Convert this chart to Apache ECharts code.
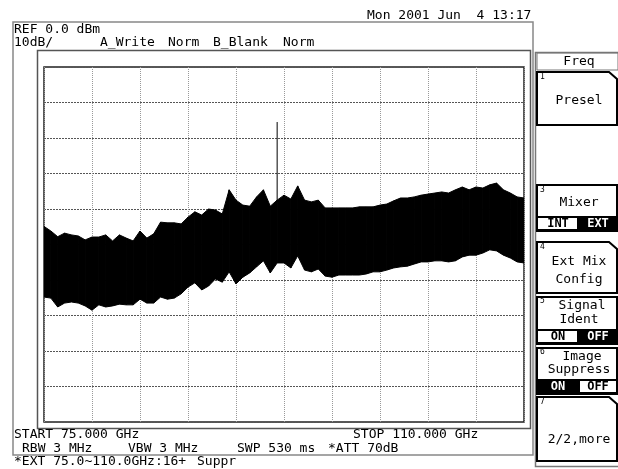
<!DOCTYPE html>
<html>
<head>
<meta charset="utf-8">
<script src="https://cdn.jsdelivr.net/npm/echarts@6/dist/echarts.min.js"></script>
<style>
  body { margin: 0; background: #fff; }
  #main { width: 618px; height: 469px; }
</style>
</head>
<body>
<div id="main"></div>
<script>
// sweep points, GHz
var freqGHz = [
  75.0, 75.5, 76.0, 76.5, 77.0, 77.5, 78.0, 78.5, 79.0, 79.5,
  80.0, 80.5, 81.0, 81.5, 82.0, 82.5, 83.0, 83.5, 84.0, 84.5,
  85.0, 85.5, 86.0, 86.5, 87.0, 87.5, 88.0, 88.5, 89.0, 89.5,
  90.0, 90.5, 91.0, 91.5, 92.0, 92.5, 93.0, 93.5, 94.0, 94.5,
  95.0, 95.5, 96.0, 96.5, 97.0, 97.5, 98.0, 98.5, 99.0, 99.5,
  100.0, 100.5, 101.0, 101.5, 102.0, 102.5, 103.0, 103.5, 104.0, 104.5,
  105.0, 105.5, 106.0, 106.5, 107.0, 107.5, 108.0, 108.5, 109.0, 109.5,
  110.0
];
// upper edge of the trace, dBm
var upperDbm = [
  -44.9, -46.2, -47.8, -46.8, -47.3, -47.6, -48.7, -47.9, -47.9, -47.3,
  -49.0, -47.3, -48.2, -49.0, -46.2, -48.2, -47.0, -43.7, -43.9, -43.9,
  -44.2, -42.3, -40.8, -41.7, -40.0, -40.3, -41.4, -34.6, -37.5, -38.9,
  -39.2, -36.6, -34.6, -39.2, -37.5, -36.1, -37.2, -33.5, -37.5, -38.0,
  -37.5, -39.7, -39.7, -39.7, -39.7, -39.7, -39.4, -39.4, -39.4, -38.9,
  -38.6, -37.7, -36.9, -36.9, -36.6, -36.1, -35.8, -35.5, -35.2, -35.5,
  -34.6, -33.8, -34.6, -33.8, -34.1, -33.2, -32.7, -34.6, -35.5, -36.6,
  -36.9
];
// lower edge of the trace, dBm
var lowerDbm = [
  -64.8, -65.1, -67.6, -66.5, -66.2, -66.5, -67.3, -68.5, -67.0, -67.6,
  -67.3, -66.8, -67.0, -67.0, -65.4, -66.5, -66.5, -64.8, -65.4, -65.1,
  -63.9, -62.0, -60.8, -62.8, -61.7, -59.7, -60.6, -57.7, -61.1, -59.2,
  -58.0, -56.3, -54.6, -58.0, -55.2, -55.2, -56.6, -53.2, -57.2, -57.7,
  -56.9, -58.9, -59.2, -58.6, -58.6, -58.6, -58.6, -58.3, -57.7, -57.7,
  -57.2, -56.6, -56.3, -56.1, -55.5, -54.9, -54.9, -54.6, -54.6, -54.9,
  -54.6, -53.5, -53.0, -53.0, -52.4, -51.5, -51.8, -53.0, -53.8, -54.9,
  -55.2
];
// single spur
var spikeGHz = [92.0, 92.0];
var spikeDbm = [-38.0, -15.5];

var FONT = '"DejaVu Sans Mono", monospace';
var myChart = echarts.init(document.getElementById('main'));

var traceData = freqGHz.map(function (f, i) { return [f, upperDbm[i], lowerDbm[i]]; });
var spikeSeries = spikeGHz.map(function (f, i) { return [f, spikeDbm[i]]; });

// fill between upper and lower edge, one slice per sweep step
function renderTrace(params, api) {
  var i = params.dataIndex;
  if (i >= freqGHz.length - 1) return;
  var a = api.coord([freqGHz[i], upperDbm[i]]);
  var b = api.coord([freqGHz[i + 1], upperDbm[i + 1]]);
  var c = api.coord([freqGHz[i + 1], lowerDbm[i + 1]]);
  var d = api.coord([freqGHz[i], lowerDbm[i]]);
  return {
    type: 'polygon',
    shape: { points: [a, b, c, d] },
    style: { fill: '#000', stroke: '#000', lineWidth: 1 }
  };
}

// text helper
function txt(x, y, s, size, opt) {
  opt = opt || {};
  return {
    type: 'text', z: 10,
    style: {
      x: x, y: y, text: s,
      font: (opt.bold ? 'bold ' : '') + size + 'px ' + FONT,
      fill: opt.fill || '#000',
      textAlign: opt.align || 'left',
      textVerticalAlign: 'middle'
    }
  };
}
function box(x, y, w, h, stroke, lw, fill) {
  return {
    type: 'rect', z: 5,
    shape: { x: x, y: y, width: w, height: h },
    style: { fill: fill || 'none', stroke: stroke, lineWidth: lw }
  };
}
// softkey with folded corner
function keyCut(y1, y2) {
  return {
    type: 'polygon', z: 5,
    shape: { points: [[537, y1], [609, y1], [617, y1 + 7], [617, y2], [537, y2]] },
    style: { fill: '#fff', stroke: '#000', lineWidth: 2 }
  };
}
function toggle(y, leftTxt, rightTxt, leftOn) {
  return [
    box(537, y, 41, 13, '#000', 2, leftOn ? '#000' : '#fff'),
    box(579, y, 38, 13, '#000', 2, leftOn ? '#fff' : '#000'),
    txt(558, y + 7, leftTxt, 12, { bold: true, align: 'center', fill: leftOn ? '#fff' : '#000' }),
    txt(598, y + 7, rightTxt, 12, { bold: true, align: 'center', fill: leftOn ? '#000' : '#fff' })
  ];
}

var graphics = [
  // frames
  box(13, 22, 520, 433, '#888', 1.5),
  box(37.5, 50.5, 493, 378, '#555', 1.5),
  // header texts
  txt(367, 16, 'Mon 2001 Jun  4 13:17', 13),
  txt(14, 30, 'REF 0.0 dBm', 13),
  txt(14, 43, '10dB/', 13),
  txt(100, 43, 'A_Write', 13),
  txt(168, 43, 'Norm', 13),
  txt(213, 43, 'B_Blank', 13),
  txt(283, 43, 'Norm', 13),
  // footer texts
  txt(14, 435, 'START 75.000 GHz', 13),
  txt(353, 435, 'STOP 110.000 GHz', 13),
  txt(22, 449, 'RBW 3 MHz', 13),
  txt(128, 449, 'VBW 3 MHz', 13),
  txt(237, 449, 'SWP 530 ms', 13),
  txt(328, 449, '*ATT 70dB', 13),
  txt(14, 462, '*EXT 75.0~110.0GHz:16+', 13),
  txt(197, 462, 'Suppr', 13),
  // softkey panel
  box(535.5, 52.5, 84, 414, '#777', 1.5),
  box(537, 53, 81, 17, '#777', 1),
  txt(579, 62, 'Freq', 13, { align: 'center' }),
  keyCut(72, 125),
  txt(540, 77, '1', 8),
  txt(579, 101, 'Presel', 13, { align: 'center' }),
  box(537, 185, 80, 46, '#000', 2, '#fff'),
  txt(540, 190, '3', 8),
  txt(579, 203, 'Mixer', 13, { align: 'center' }),
  keyCut(242, 293),
  txt(540, 247, '4', 8),
  txt(579, 262, 'Ext Mix', 13, { align: 'center' }),
  txt(579, 280, 'Config', 13, { align: 'center' }),
  box(537, 297, 80, 47, '#000', 2, '#fff'),
  txt(540, 301, '5', 8),
  txt(582, 306, 'Signal', 13, { align: 'center' }),
  txt(579, 320, 'Ident', 13, { align: 'center' }),
  box(537, 348, 80, 46, '#000', 2, '#fff'),
  txt(540, 352, '6', 8),
  txt(582, 357, 'Image', 13, { align: 'center' }),
  txt(579, 370, 'Suppress', 13, { align: 'center' }),
  keyCut(397, 461),
  txt(540, 402, '7', 8),
  txt(579, 440, '2/2,more', 13, { align: 'center' })
];
graphics = graphics
  .concat(toggle(217, 'INT', 'EXT', false))
  .concat(toggle(330, 'ON', 'OFF', false))
  .concat(toggle(380, 'ON', 'OFF', true));

var option = {
  backgroundColor: '#ffffff',
  animation: false,
  grid: {
    left: 44, top: 67, width: 480, height: 355,
    show: true, borderColor: '#222', borderWidth: 1.5,
    containLabel: false
  },
  xAxis: [{
    // data axis
    type: 'value', min: 75, max: 110, show: false
  }, {
    // ten divisions for the graticule
    type: 'value', min: 0, max: 10, interval: 1,
    axisLine: { show: false }, axisTick: { show: false }, axisLabel: { show: false },
    splitLine: { show: true, lineStyle: { color: '#999', width: 1, type: [1, 1] } }
  }],
  yAxis: {
    type: 'value', min: -100, max: 0, interval: 10,
    axisLine: { show: false }, axisTick: { show: false }, axisLabel: { show: false },
    splitLine: { show: true, lineStyle: { color: '#555', width: 1, type: [2, 1] } }
  },
  series: [{
    name: 'trace',
    type: 'custom',
    xAxisIndex: 0,
    yAxisIndex: 0,
    data: traceData,
    encode: { x: 0, y: [1, 2] },
    renderItem: renderTrace,
    clip: true
  }, {
    name: 'spur',
    type: 'line',
    xAxisIndex: 0,
    data: spikeSeries,
    symbol: 'none',
    lineStyle: { color: '#000', width: 1 }
  }],
  graphic: graphics
};
myChart.setOption(option);
</script>
</body>
</html>
